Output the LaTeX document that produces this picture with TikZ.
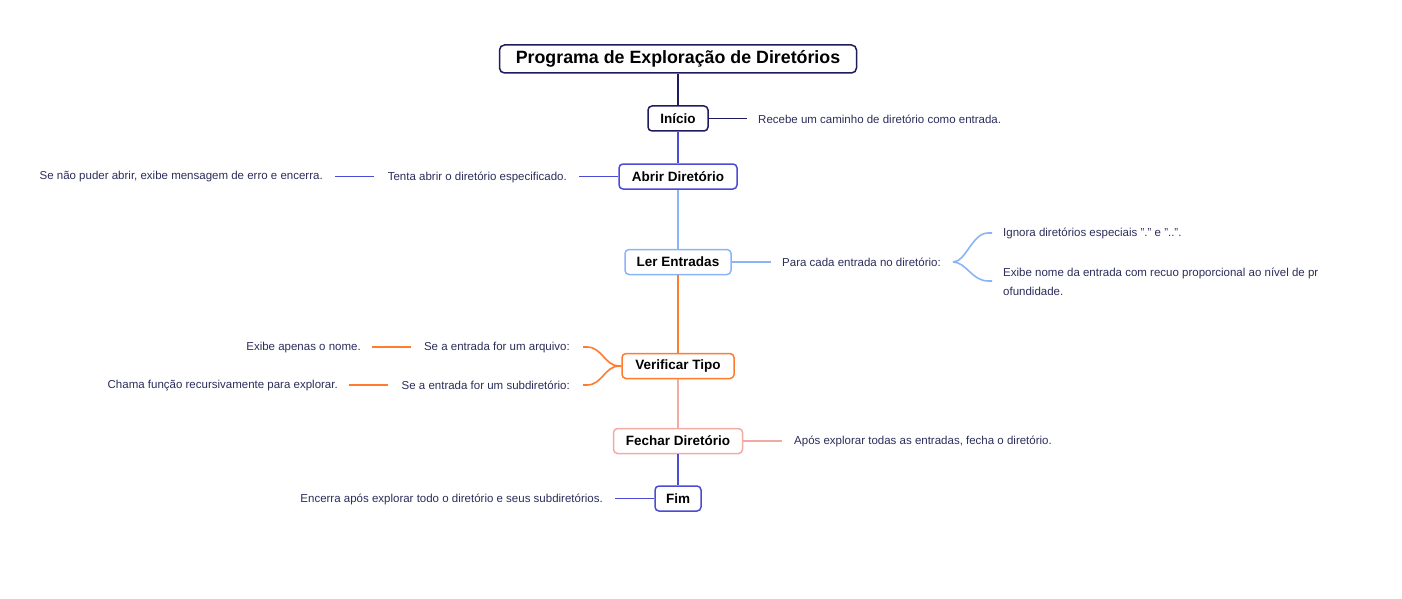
\documentclass[tikz,border=0pt]{standalone}
\usepackage{fontspec}
\setmainfont{Liberation Sans}
\definecolor{navy}{HTML}{1E1B5E}
\definecolor{cblue}{HTML}{4B4BD6}
\definecolor{lblue}{HTML}{8AB4F8}
\definecolor{corange}{HTML}{FF7B2E}
\definecolor{cpink}{HTML}{F4AAA4}
\definecolor{ctext}{HTML}{2B2D5A}
\tikzset{
  topic/.style={draw, fill=white, rounded corners=4pt, line width=1.5pt, font=\fontsize{13.5}{15}\selectfont\bfseries, text=black, inner sep=0pt, minimum height=25pt},
  titlebox/.style={draw=navy, fill=white, rounded corners=5pt, line width=1.5pt, font=\fontsize{17.8}{20}\selectfont\bfseries, text=black, inner sep=0pt, minimum height=28pt, minimum width=357pt},
  leafr/.style={anchor=west, font=\fontsize{11.5}{19}\selectfont, text=ctext, inner sep=0pt},
  leafl/.style={anchor=east, font=\fontsize{11.5}{19}\selectfont, text=ctext, inner sep=0pt},
  conn/.style={line width=1.6pt},
}
\begin{document}
\begin{tikzpicture}[x=1pt,y=-1pt]
\useasboundingbox (0,0) rectangle (1402,599);
% main nodes
\node[titlebox] (title) at (678,59) {Programa de Exploração de Diretórios};
\node[topic, draw=navy, minimum width=60pt] (ini) at (678,118.5) {Início};
\node[topic, draw=cblue, minimum width=118pt] (abr) at (678,176.5) {Abrir Diretório};
\node[topic, draw=lblue, minimum width=106pt] (ler) at (678,262) {Ler Entradas};
\node[topic, draw=corange, minimum width=112pt] (ver) at (678,366) {Verificar Tipo};
\node[topic, draw=cpink, minimum width=129pt] (fec) at (678,441) {Fechar Diretório};
\node[topic, draw=cblue, minimum width=46pt] (fim) at (678,498.5) {Fim};
% trunk
\draw[conn, navy] (title.south) -- (ini.north);
\draw[conn, cblue] (ini.south) -- (abr.north);
\draw[conn, lblue] (abr.south) -- (ler.north);
\draw[conn, corange] (ler.south) -- (ver.north);
\draw[conn, cpink] (ver.south) -- (fec.north);
\draw[conn, cblue] (fec.south) -- (fim.north);
% Inicio
\coordinate (c1) at (747,118.5);
\node[leafr] (t1) at (758,119) {Recebe um caminho de diretório como entrada.};
\draw[conn, navy] (ini.east) -- (c1);
% Abrir
\node[leafl] (t2) at (567,177) {Tenta abrir o diretório especificado.};
\coordinate (c2) at (579,176.5);
\draw[conn, cblue] (abr.west) -- (c2);
\coordinate (c3a) at (374,176.5);
\coordinate (c3b) at (335,176.5);
\draw[conn, cblue] (c3a) -- (c3b);
\node[leafl] (t3) at (323,177) {Se não puder abrir, exibe mensagem de erro e encerra.};
% Ler
\coordinate (c4) at (771,262);
\draw[conn, lblue] (ler.east) -- (c4);
\node[leafr] (t4) at (782,262.5) {Para cada entrada no diretório:};
\coordinate (b4) at (953,262);
\coordinate (b4a) at (992,233);
\coordinate (b4b) at (992,281);
\draw[conn, lblue] (b4) .. controls (966,262) and (972,233) .. (988,233) -- (b4a);
\draw[conn, lblue] (b4) .. controls (966,262) and (972,281) .. (988,281) -- (b4b);
\node[leafr] (t5) at (1003,233.5) {Ignora diretórios especiais "." e "..".};
\node[leafr, align=left, anchor=north west] (t6) at (1003,268) {Exibe nome da entrada com recuo proporcional ao nível de pr\\ofundidade.};
% Verificar
\coordinate (v1) at (583,347);
\coordinate (v2) at (583,385);
\draw[conn, corange] (ver.west) -- (619,366) .. controls (605,366) and (602,347) .. (587,347) -- (v1);
\draw[conn, corange] (ver.west) -- (619,366) .. controls (605,366) and (602,385) .. (587,385) -- (v2);
\node[leafl] (t7) at (570,347.5) {Se a entrada for um arquivo:};
\node[leafl] (t8) at (570,385.5) {Se a entrada for um subdiretório:};
\coordinate (c7a) at (411,347);
\coordinate (c7b) at (372,347);
\draw[conn, corange] (c7a) -- (c7b);
\node[leafl] (t9) at (361,347.5) {Exibe apenas o nome.};
\coordinate (c8a) at (388,385);
\coordinate (c8b) at (349,385);
\draw[conn, corange] (c8a) -- (c8b);
\node[leafl] (t10) at (338,385.5) {Chama função recursivamente para explorar.};
% Fechar
\coordinate (c11) at (782,441);
\draw[conn, cpink] (fec.east) -- (c11);
\node[leafr] (t11) at (794,441.5) {Após explorar todas as entradas, fecha o diretório.};
% Fim
\coordinate (c12) at (615,498.5);
\draw[conn, cblue] (fim.west) -- (c12);
\node[leafl] (t12) at (603,499) {Encerra após explorar todo o diretório e seus subdiretórios.};
\end{tikzpicture}
\end{document}
